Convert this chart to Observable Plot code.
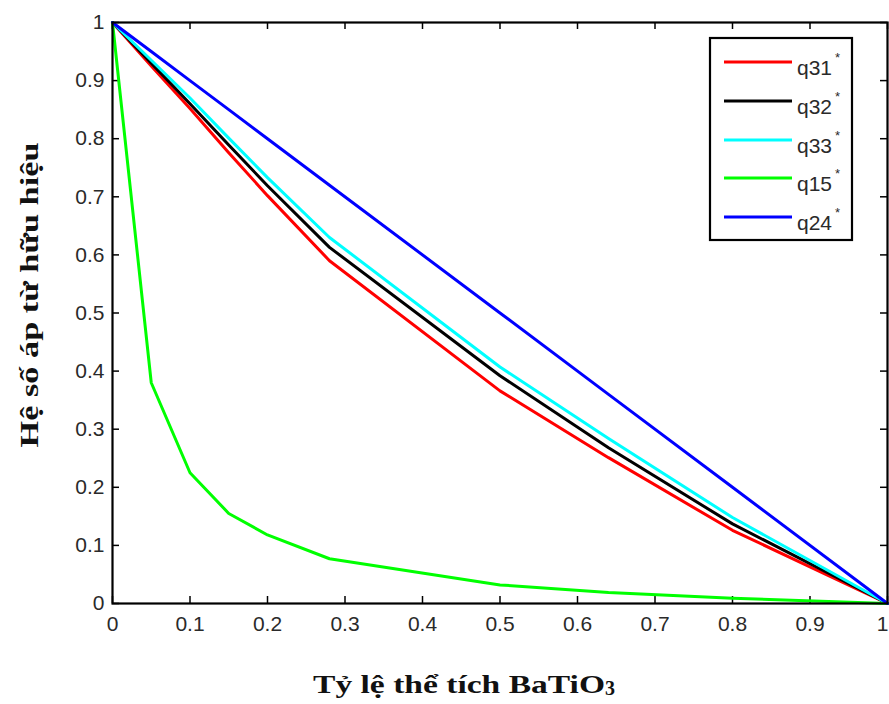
<!DOCTYPE html>
<html>
<head>
<meta charset="utf-8">
<script src="https://cdn.jsdelivr.net/npm/d3@7"></script>
<script src="https://cdn.jsdelivr.net/npm/@observablehq/plot@0.6"></script>
<style>
  html, body { margin: 0; padding: 0; background: #fff; }
  #chart { position: relative; width: 889px; height: 704px; }
</style>
</head>
<body>
<div id="chart"></div>
<script>
const xs = [0, 0.05, 0.1, 0.15, 0.2, 0.28, 0.5, 0.64, 0.8, 1];
const q31 = [1, 0.925, 0.852, 0.776, 0.702, 0.590, 0.366, 0.251, 0.126, 0];
const q32 = [1, 0.930, 0.860, 0.789, 0.719, 0.613, 0.392, 0.268, 0.137, 0];
const q33 = [1, 0.935, 0.870, 0.801, 0.733, 0.630, 0.407, 0.284, 0.148, 0];
const q15 = [1, 0.380, 0.225, 0.155, 0.118, 0.077, 0.032, 0.019, 0.009, 0];
const q24 = [1, 0.950, 0.900, 0.850, 0.800, 0.720, 0.500, 0.360, 0.200, 0];

const seriesNames = ["q31", "q32", "q33", "q15", "q24"];
const seriesValues = [q31, q32, q33, q15, q24];
const seriesColors = ["#ff0000", "#000000", "#00ffff", "#00ff00", "#0000ff"];
const ticks = [0, 0.1, 0.2, 0.3, 0.4, 0.5, 0.6, 0.7, 0.8, 0.9, 1];
const tickLabels = ["0", "0.1", "0.2", "0.3", "0.4", "0.5", "0.6", "0.7", "0.8", "0.9", "1"];
const xTitle = "Tỷ lệ thể tích BaTiO";
const xTitleSub = "3";
const yTitle = "Hệ số áp từ hữu hiệu";

const data = [];
seriesNames.forEach((name, i) => {
  xs.forEach((x, j) => data.push({series: name, x, y: seriesValues[i][j]}));
});

const W = 889, H = 704;
const mL = 112, mR = 2, mT = 22, mB = 101;
const tickLenX = 7 / (W - mL - mR);
const tickLenY = 7 / (H - mT - mB);
const fmt = d => tickLabels[ticks.indexOf(d)];

const plot = Plot.plot({
  width: W,
  height: H,
  marginLeft: mL,
  marginRight: mR,
  marginTop: mT,
  marginBottom: mB,
  style: {fontFamily: "'Liberation Sans', Arial, sans-serif", fontSize: "21px", color: "#2a2a2a", background: "#fff"},
  x: {domain: [0, 1]},
  y: {domain: [0, 1]},
  color: {domain: seriesNames, range: seriesColors},
  marks: [
    Plot.axisX(ticks, {tickSize: 0, tickPadding: 13, fontSize: 21, label: null, fill: "#2a2a2a", tickFormat: fmt}),
    Plot.axisY(ticks, {tickSize: 0, tickPadding: 8, fontSize: 21, label: null, fill: "#2a2a2a", tickFormat: fmt}),
    Plot.ruleX(ticks, {x: d => d, y1: 0, y2: tickLenY, stroke: "#000", strokeWidth: 1.5}),
    Plot.ruleX(ticks, {x: d => d, y1: 1, y2: 1 - tickLenY, stroke: "#000", strokeWidth: 1.5}),
    Plot.ruleY(ticks, {y: d => d, x1: 0, x2: tickLenX, stroke: "#000", strokeWidth: 1.5}),
    Plot.ruleY(ticks, {y: d => d, x1: 1, x2: 1 - tickLenX, stroke: "#000", strokeWidth: 1.5}),
    Plot.line(data, {x: "x", y: "y", z: "series", stroke: "series", strokeWidth: 3, strokeLinejoin: "round"}),
    Plot.frame({stroke: "#000", strokeWidth: 2.2})
  ]
});

document.getElementById("chart").appendChild(plot);

const svg = d3.select(plot);
// nudge the last x tick label so it stays inside the picture
svg.selectAll("g[aria-label='x-axis tick label'] text").each(function() {
  if (d3.select(this).text() === "1") d3.select(this).attr("dx", -5);
});

// Axis titles
const xt = svg.append("text")
  .attr("x", 313).attr("y", 693)
  .attr("text-anchor", "start")
  .attr("font-family", "'Liberation Serif', 'Times New Roman', serif")
  .attr("font-weight", "bold")
  .attr("font-size", 26)
  .attr("fill", "#111");
xt.append("tspan").attr("textLength", 292).attr("lengthAdjust", "spacingAndGlyphs").text(xTitle);
xt.append("tspan").attr("font-size", 20).attr("dy", 2).text(xTitleSub);

svg.append("text")
  .attr("transform", "translate(38,295) rotate(-90)")
  .attr("text-anchor", "middle")
  .attr("font-family", "'Liberation Serif', 'Times New Roman', serif")
  .attr("font-weight", "bold")
  .attr("font-size", 26)
  .attr("textLength", 305)
  .attr("lengthAdjust", "spacingAndGlyphs")
  .attr("fill", "#111")
  .text(yTitle);

// Legend
const lg = svg.append("g").attr("text-anchor", "start");
lg.append("rect")
  .attr("x", 710).attr("y", 38).attr("width", 142).attr("height", 202)
  .attr("fill", "#fff").attr("stroke", "#000").attr("stroke-width", 2.2);
const rowY = [62, 101, 140, 178, 217];
seriesNames.forEach((name, i) => {
  const y = rowY[i];
  lg.append("line")
    .attr("x1", 724).attr("x2", 792).attr("y1", y).attr("y2", y)
    .attr("stroke", seriesColors[i]).attr("stroke-width", 3);
  const t = lg.append("text")
    .attr("x", 797).attr("y", y + 13)
    .attr("text-anchor", "start")
    .attr("font-family", "'Liberation Sans', Arial, sans-serif")
    .attr("font-size", 21)
    .attr("fill", "#2a2a2a");
  t.append("tspan").text(name);
  t.append("tspan").attr("font-size", 13).attr("dx", 3).attr("dy", -13).text("*");
});
</script>
</body>
</html>
